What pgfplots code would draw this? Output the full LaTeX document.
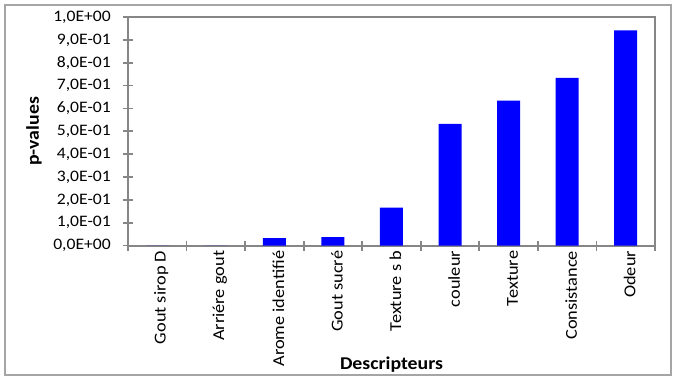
\documentclass[border=0pt]{standalone}
\usepackage{pgfplots}
\pgfplotsset{compat=1.18}
\usepackage{fontspec}
\setmainfont[FakeStretch=1.1]{Carlito}
\definecolor{axgray}{RGB}{134,134,134}
\definecolor{bordergray}{RGB}{165,165,165}
\definecolor{barblue}{RGB}{0,0,255}
\begin{document}
\begin{tikzpicture}
\useasboundingbox (0,0) rectangle (506.25pt,285.75pt);
\draw[bordergray, line width=0.9pt] (3.75pt,4.5pt) rectangle (503.25pt,282pt);
\begin{axis}[
  at={(96pt,101.55pt)}, anchor=south west, scale only axis,
  width=395.25pt, height=171.45pt,
  xmin=-0.5, xmax=8.5, ymin=0, ymax=1,
  ybar, bar width=17.25pt,
  axis line style={axgray, line width=1.4pt},
  tick style={axgray, line width=1.3pt},
  tick align=center,
  xtick pos=bottom, ytick pos=left,
  major tick length=7.5pt,
  minor tick length=7.5pt,
  xtick={0,1,2,3,4,5,6,7,8},
  xticklabels={Gout sirop D,Arriére gout,Arome identifié,Gout sucré,Texture s b,couleur,Texture,Consistance,Odeur},
  major x tick style={draw=none},
  minor xtick={-0.5,0.5,1.5,2.5,3.5,4.5,5.5,6.5,7.5,8.5},
  ytick={0,0.1,0.2,0.3,0.4,0.5,0.6,0.7,0.8,0.9,1},
  yticklabels={{0,0E+00},{1,0E-01},{2,0E-01},{3,0E-01},{4,0E-01},{5,0E-01},{6,0E-01},{7,0E-01},{8,0E-01},{9,0E-01},{1,0E+00}},
  xticklabel style={rotate=90, anchor=east, font=\fontsize{12.5}{14}\selectfont, inner sep=0pt, xshift=0pt, yshift=-3pt},
  yticklabel style={anchor=east, font=\fontsize{12}{14}\selectfont, inner sep=0pt, xshift=-9pt},
  xlabel={Descripteurs},
  ylabel={p-values},
  xlabel style={at={(axis description cs:0.5,-0.522)}, anchor=center, font=\fontsize{13.5}{16}\selectfont\bfseries},
  ylabel style={at={(axis description cs:-0.1784,0.5)}, anchor=center, font=\fontsize{13.5}{16}\selectfont\bfseries},
  clip=false,
]
\addplot[fill=barblue, draw=none] coordinates {
  (0,0.0002) (1,0.0004) (2,0.033) (3,0.037) (4,0.166)
  (5,0.533) (6,0.634) (7,0.734) (8,0.942)
};
\end{axis}
\end{tikzpicture}
\end{document}
